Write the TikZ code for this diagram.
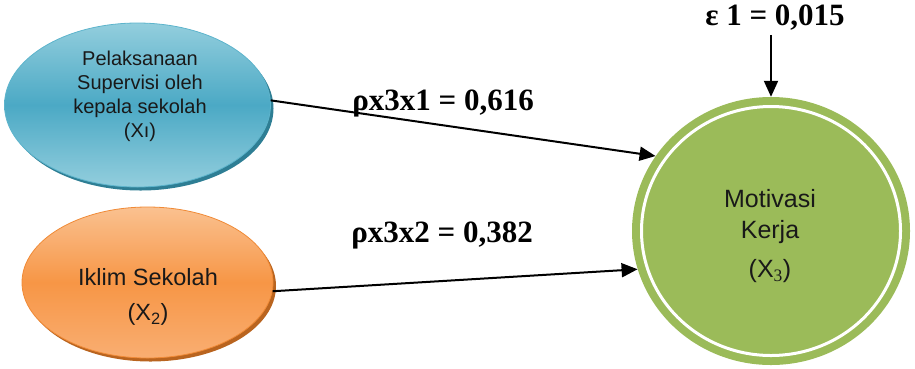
\documentclass[tikz,border=0pt]{standalone}
\usepackage{fontspec}
\setmainfont{Liberation Serif}
\setsansfont{Liberation Sans}
\usetikzlibrary{shapes.geometric,arrows.meta}
\definecolor{blueMid}{HTML}{4BA9C5}
\definecolor{blueEdge}{HTML}{93CEDD}
\definecolor{blueLine}{HTML}{5DB4CC}
\definecolor{blueShadow}{HTML}{2E7E94}
\definecolor{orangeMid}{HTML}{F79646}
\definecolor{orangeTop}{HTML}{FAC190}
\definecolor{orangeBot}{HTML}{F9AE72}
\definecolor{orangeLine}{HTML}{F08A36}
\definecolor{orangeShadow}{HTML}{B9641F}
\definecolor{greenFill}{HTML}{9BBB59}
\tikzset{
  varbox/.style={ellipse, inner sep=0pt, line width=0.8pt},
  vartext/.style={font=\sffamily, align=center, inner sep=0pt, text=black!90},
  coef/.style={font=\bfseries\fontsize{31}{33}\selectfont, inner sep=1pt},
  path/.style={line width=2pt, -{Triangle[length=16pt,width=14pt]}},
}
\begin{document}
\begin{tikzpicture}[x=1pt,y=-1pt]
\useasboundingbox (0,0) rectangle (915,368);

% drop shadows behind the two exogenous variables
\fill[blueShadow] (140.5,108.5) ellipse [x radius=133, y radius=82];
\fill[orangeShadow] (150.5,286) ellipse [x radius=125.5, y radius=75.5];

% exogenous variables
\node[varbox, draw=blueLine, minimum width=266pt, minimum height=164pt,
      top color=blueEdge, bottom color=blueEdge, middle color=blueMid]
      (x1) at (137.5,105) {};
\node[vartext, font=\sffamily\fontsize{20}{24}\selectfont] (t1) at (140,96)
      {Pelaksanaan\\Supervisi oleh\\kepala sekolah\\(Xı)};

\node[varbox, draw=orangeLine, minimum width=251pt, minimum height=151pt,
      top color=orangeTop, bottom color=orangeBot, middle color=orangeMid]
      (x2) at (147.5,282.5) {};
\node[vartext, font=\sffamily\fontsize{23.5}{35}\selectfont] (t2) at (148,297)
      {Iklim Sekolah\\(X\textsubscript{2})};

% endogenous variable with inner white ring
\node[ellipse, inner sep=0pt, fill=greenFill, minimum width=278pt, minimum height=268pt]
      (x3) at (771,231) {};
\draw[white, line width=3pt] (x3.center) ellipse [x radius=129.5, y radius=124.5];
\node[vartext, font=\sffamily\fontsize{25}{31}\selectfont] (t3) at (770,236)
      {Motivasi\\Kerja\\[8pt](X\textsubscript{\rmfamily 3})};

% residual
\node[coef] (eps) at (775,18) {ε 1 = 0,015};
\draw[path] (eps.south -| x3.north) ++(0,3) -- (x3.north);

% path coefficients
\draw[path] (x1.2) -- (x3.147);
\draw[path] (x2.356) -- (x3.196);
\node[coef] (p31) at (443,103) {ρx3x1 = 0,616};
\node[coef] (p32) at (442,235) {ρx3x2 = 0,382};
\end{tikzpicture}
\end{document}
